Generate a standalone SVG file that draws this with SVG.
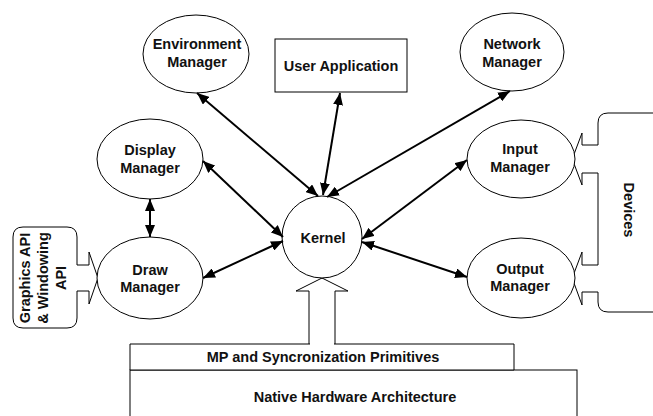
<svg xmlns="http://www.w3.org/2000/svg" width="653" height="416" viewBox="0 0 653 416">
<style>
.s{fill:#fff;stroke:#000;stroke-width:1}
.o{fill:none;stroke:#000;stroke-width:1}
.t{font-family:"Liberation Sans",Arial,sans-serif;font-weight:bold;font-size:14.5px;fill:#111;text-anchor:middle}
.c{fill:none;stroke:#000;stroke-width:2;marker-start:url(#ah);marker-end:url(#ah)}
</style>
<defs>
<marker id="ah" viewBox="0 0 12 10" refX="12" refY="5" markerWidth="12" markerHeight="10" markerUnits="userSpaceOnUse" orient="auto-start-reverse">
<path d="M0,0 L12,5 L0,10 z" fill="#000"/>
</marker>
</defs>
<rect width="653" height="416" fill="#fff"/>

<g id="native">
<rect class="s" x="130" y="370" width="447" height="60"/>
<text class="t" x="355" y="402">Native Hardware Architecture</text>
</g>
<g id="mp">
<path class="s" d="M130,370 L130,344 L309,344 L335,344 L514,344 L514,370 Z"/>
<path fill="#fff" stroke="none" d="M310,290 L334,290 L334,345 L310,345 Z"/>
<path class="o" d="M309,344 L309,291 L296,291 L329,274.5 M315,274.5 L348,291 L335,291 L335,344"/>
<text class="t" x="323" y="362">MP and Syncronization Primitives</text>
</g>

<g id="graphics">
<path class="o" d="M77,265 L77,237 Q77,227 67,227 L23,227 Q13,227 13,237 L13,318 Q13,328 23,328 L67,328 Q77,328 77,318 L77,291"/>
<path class="o" d="M77,265 L89,265 L89,252 L100,284 M100,272 L89,304 L89,291 L77,291"/>
<text class="t" transform="translate(30,278) rotate(-90)">Graphics API</text>
<text class="t" transform="translate(48,278) rotate(-90)">&amp; Windowing</text>
<text class="t" transform="translate(66,278) rotate(-90)">API</text>
</g>

<g id="devices">
<path class="o" d="M660,113 L608,113 Q598,113 598,123 L598,145 L582,145 L582,133 L570,165 M570,153 L582,185 L582,173 L598,173 L598,265 L582,265 L582,252 L570,284 M570,272 L582,305 L582,292 L598,292 L598,302 Q598,312 608,312 L660,312"/>
<text class="t" transform="translate(624,210) rotate(90)">Devices</text>
</g>

<g id="env">
<ellipse class="s" cx="196" cy="54" rx="53" ry="39"/>
<text class="t" x="197" y="49">Environment</text>
<text class="t" x="197" y="67">Manager</text>
</g>
<g id="userapp">
<rect class="s" x="275" y="39" width="132" height="53"/>
<text class="t" x="341" y="71">User Application</text>
</g>
<g id="network">
<ellipse class="s" cx="512" cy="52" rx="52" ry="39"/>
<text class="t" x="512" y="49">Network</text>
<text class="t" x="512" y="67">Manager</text>
</g>
<g id="display">
<ellipse class="s" cx="150" cy="159" rx="53" ry="40"/>
<text class="t" x="150" y="155">Display</text>
<text class="t" x="150" y="173">Manager</text>
</g>
<g id="input">
<ellipse class="s" cx="521" cy="159" rx="54" ry="39"/>
<text class="t" x="520" y="154">Input</text>
<text class="t" x="520" y="172">Manager</text>
</g>
<g id="kernel">
<ellipse class="s" cx="322" cy="237" rx="40" ry="41"/>
<text class="t" x="323" y="243">Kernel</text>
</g>
<g id="draw">
<ellipse class="s" cx="150" cy="278" rx="53" ry="41"/>
<text class="t" x="150" y="275">Draw</text>
<text class="t" x="150" y="292">Manager</text>
</g>
<g id="output">
<ellipse class="s" cx="521" cy="278" rx="54" ry="40"/>
<text class="t" x="520" y="274">Output</text>
<text class="t" x="520" y="291">Manager</text>
</g>

<g id="connectors">
<line class="c" x1="197" y1="93" x2="318" y2="196"/>
<line class="c" x1="340" y1="93" x2="323" y2="195"/>
<line class="c" x1="510" y1="91" x2="327" y2="197"/>
<line class="c" x1="203" y1="161" x2="283" y2="237"/>
<line class="c" x1="203" y1="278" x2="283" y2="241"/>
<line class="c" x1="467" y1="160" x2="362" y2="239"/>
<line class="c" x1="467" y1="277" x2="362" y2="242"/>
<line class="c" x1="150" y1="199" x2="150" y2="237"/>
</g>
</svg>
